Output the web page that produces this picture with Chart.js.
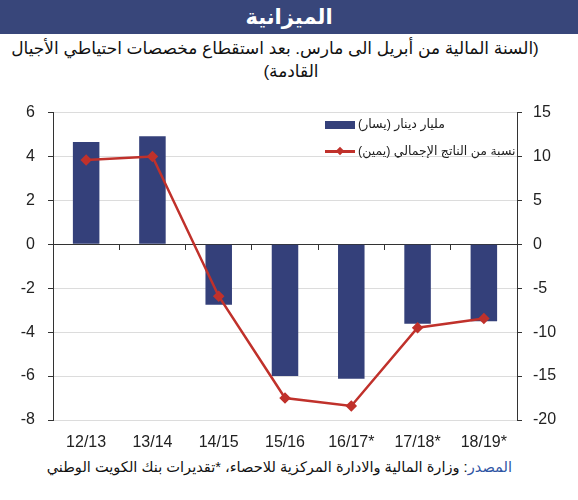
<!DOCTYPE html>
<html lang="ar">
<head>
  <meta charset="UTF-8" />
  <title>الميزانية</title>
  <script src="https://cdn.jsdelivr.net/npm/chart.js"></script>
  <style>
    body {
      margin: 0;
      width: 578px;
      height: 500px;
      background: #fff;
      font-family: Arial, 'Liberation Sans', 'DejaVu Sans', sans-serif;
      position: relative;
      overflow: hidden;
    }
    .header {
      position: absolute;
      left: 0; top: 0;
      width: 578px;
      height: 34px;
      background: #38467a;
      color: #fff;
      font-weight: bold;
      font-size: 21px;
      text-align: center;
      line-height: 34px;
    }
    .subtitle {
      position: absolute;
      width: 578px;
      text-align: center;
      direction: rtl;
      font-size: 17px;
      line-height: 23px;
      color: #111;
    }
    .chart-box {
      position: absolute;
      left: 0; top: 90px;
      width: 578px;
      height: 365px;
    }
    .legend {
      position: absolute;
      left: 325px; top: 110px;
      font-size: 12.5px;
      color: #222;
    }
    .legend .row {
      display: flex;
      align-items: center;
      height: 27px;
    }
    .legend .swatch {
      width: 30px;
      height: 18px;
      position: relative;
      margin-right: 3px;
    }
    .legend .bar {
      position: absolute;
      left: 0; top: 6px;
      width: 30px; height: 8px;
      background: #34407a;
    }
    .legend .line {
      position: absolute;
      left: 0; top: 8px;
      width: 30px; height: 3px;
      background: #c0312b;
    }
    .legend .dot {
      position: absolute;
      left: 12px; top: 6px;
      width: 6px; height: 6px;
      background: #c0312b;
      transform: rotate(45deg);
    }
    .footer {
      position: absolute;
      left: 0; top: 458px;
      width: 512px;
      text-align: right;
      direction: rtl;
      font-size: 14.6px;
      color: #111;
    }
    .footer .src { color: #2f55a4; }
  </style>
</head>
<body>
  <div class="header">الميزانية</div>
  <div class="subtitle" style="left:-14px; top:37px;">(السنة المالية من أبريل الى مارس. بعد استقطاع مخصصات احتياطي الأجيال</div>
  <div class="subtitle" style="left:2px; top:60px;">القادمة)</div>
  <div class="chart-box">
    <canvas id="budgetChart" width="578" height="365"></canvas>
  </div>
  <div class="legend">
    <div class="row"><div class="swatch"><div class="bar"></div></div><span dir="rtl">مليار دينار (يسار)</span></div>
    <div class="row"><div class="swatch"><div class="line"></div><div class="dot"></div></div><span dir="rtl">نسبة من الناتج الإجمالي (يمين)</span></div>
  </div>
  <div class="footer"><span class="src">المصدر</span>: وزارة المالية والادارة المركزية للاحصاء، *تقديرات بنك الكويت الوطني</div>

  <script>
    const years = ['12/13', '13/14', '14/15', '15/16', '16/17*', '17/18*', '18/19*'];
    // KD billion (left axis)
    const balanceKD = [4.66, 4.92, -2.75, -6.0, -6.12, -3.62, -3.5];
    // % of GDP (right axis)
    const balanceGDP = [9.6, 10.0, -5.9, -17.5, -18.4, -9.5, -8.45];
    const leftTicks = [-8, -6, -4, -2, 0, 2, 4, 6];
    const rightTicks = [-20, -15, -10, -5, 0, 5, 10, 15];

    const ctx = document.getElementById('budgetChart').getContext('2d');
    Chart.defaults.font.family = "Arial, 'Liberation Sans', sans-serif";
    Chart.defaults.color = '#222';

    new Chart(ctx, {
      data: {
        labels: years,
        datasets: [
          {
            type: 'line',
            label: 'نسبة من الناتج الإجمالي (يمين)',
            data: balanceGDP,
            yAxisID: 'y1',
            borderColor: '#c0312b',
            backgroundColor: '#c0312b',
            borderWidth: 2.5,
            pointStyle: 'rectRot',
            pointRadius: 4,
            tension: 0,
            order: 0
          },
          {
            type: 'bar',
            label: 'مليار دينار (يسار)',
            data: balanceKD,
            yAxisID: 'y',
            backgroundColor: '#34407a',
            barPercentage: 0.4,
            categoryPercentage: 1,
            order: 1
          }
        ]
      },
      options: {
        responsive: false,
        animation: false,
        layout: { padding: { top: 12, left: 0, right: 0, bottom: 0 } },
        plugins: {
          legend: { display: false },
          tooltip: { enabled: false }
        },
        scales: {
          x: {
            offset: true,
            grid: { display: false },
            border: { display: false },
            ticks: { font: { size: 16 }, padding: 5, maxRotation: 0, color: '#222' },
            afterFit: s => { s.height = 35; }
          },
          x2: {
            type: 'category',
            labels: years,
            position: { y: 0 },
            offset: true,
            grid: { offset: true, drawOnChartArea: false, tickLength: 5, color: '#333' },
            border: { color: '#333', width: 1 },
            ticks: { display: false },
            afterFit: s => { s.height = 0; }
          },
          y: {
            position: 'left',
            min: -8,
            max: 6,
            afterBuildTicks: s => { s.ticks = leftTicks.map(v => ({ value: v })); },
            grid: { color: '#dcdcdc', tickColor: '#333', tickLength: 5 },
            border: { color: '#333' },
            ticks: { font: { size: 16 }, padding: 13, color: '#222' },
            afterFit: s => { s.width = 53; }
          },
          y1: {
            position: 'right',
            min: -20,
            max: 15,
            afterBuildTicks: s => { s.ticks = rightTicks.map(v => ({ value: v })); },
            grid: { drawOnChartArea: false, color: '#333', tickLength: 5 },
            border: { color: '#333' },
            ticks: { font: { size: 16 }, padding: 11, color: '#222' },
            afterFit: s => { s.width = 61; }
          }
        }
      }
    });
  </script>
</body>
</html>
